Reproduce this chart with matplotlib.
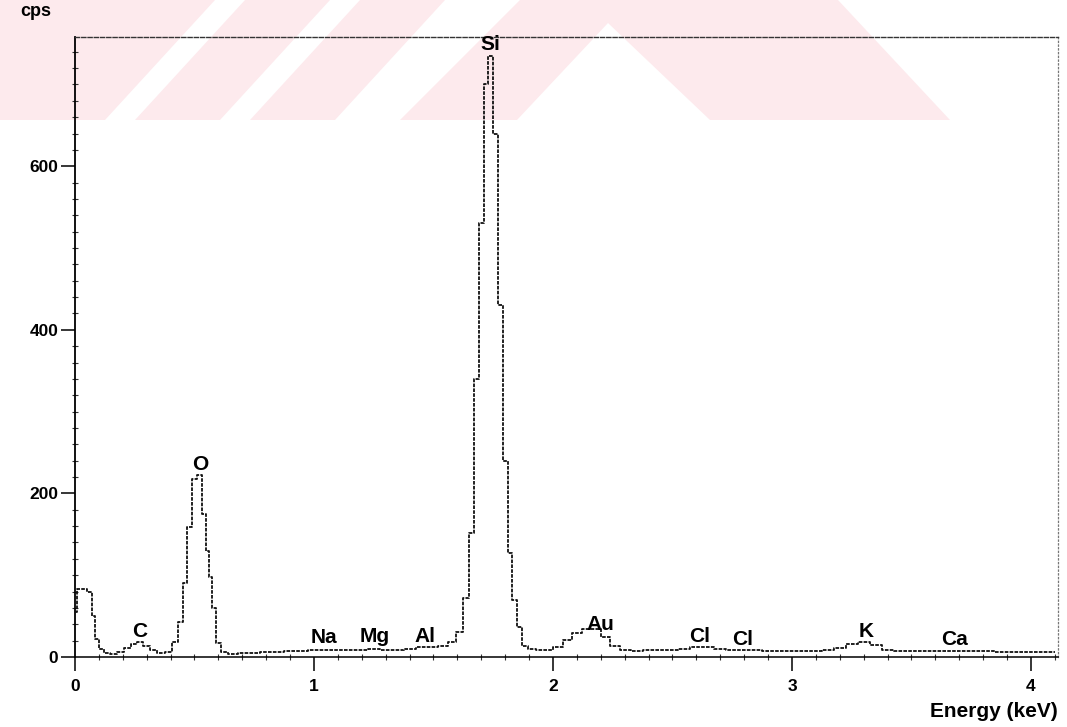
import matplotlib
matplotlib.use('Agg')
import matplotlib.pyplot as plt
from matplotlib.patches import Polygon
from matplotlib.ticker import MultipleLocator

# ---------------- data ----------------
energy = [0.00, 0.02, 0.04, 0.06, 0.08, 0.09, 0.11, 0.13, 0.16, 0.19, 0.22, 0.25, 0.27,
          0.30, 0.33, 0.36, 0.39, 0.42, 0.44, 0.46, 0.48, 0.50, 0.52, 0.54, 0.555, 0.57,
          0.58, 0.60, 0.62, 0.66, 0.70, 0.75, 0.80, 0.85, 0.90, 0.95, 1.00, 1.05, 1.10,
          1.15, 1.20, 1.25, 1.30, 1.35, 1.40, 1.45, 1.50, 1.54, 1.58, 1.61, 1.64, 1.66,
          1.68, 1.70, 1.72, 1.74, 1.76, 1.78, 1.80, 1.82, 1.84, 1.86, 1.88, 1.91, 1.95,
          1.98, 2.02, 2.06, 2.10, 2.14, 2.18, 2.22, 2.26, 2.30, 2.35, 2.40, 2.45, 2.50,
          2.55, 2.60, 2.65, 2.70, 2.75, 2.80, 2.85, 2.90, 2.95, 3.00, 3.05, 3.10, 3.15,
          3.20, 3.25, 3.30, 3.35, 3.40, 3.45, 3.50, 3.60, 3.70, 3.80, 3.90, 4.00, 4.10]
counts = [55, 83, 83, 80, 50, 22, 10, 5, 4, 6, 11, 16, 18,
          13, 8, 5, 6, 18, 43, 90, 159, 218, 222, 175, 130, 98,
          60, 17, 6, 4, 5, 5, 6, 6, 7, 7, 8, 9, 8,
          9, 9, 10, 9, 9, 10, 12, 12, 14, 18, 30, 72, 152,
          340, 530, 700, 735, 640, 430, 240, 127, 70, 37, 14, 10, 8,
          8, 12, 21, 29, 34, 34, 24, 14, 8, 7, 8, 8, 9,
          10, 12, 12, 10, 9, 8, 8, 7, 7, 7, 7, 7, 8,
          11, 16, 18, 15, 9, 7, 7, 7, 7, 7, 6, 6, 6]

peak_labels = ['Si', 'O', 'C', 'Na', 'Mg', 'Al', 'Au', 'Cl', 'Cl', 'K', 'Ca']
label_x = [1.736, 0.523, 0.272, 1.04, 1.255, 1.465, 2.197, 2.615, 2.795, 3.31, 3.68]
label_y = [749, 235, 31, 24, 25, 25, 40, 25, 22, 31, 21]

y_ticks = [0, 200, 400, 600]
x_ticks = [0, 1, 2, 3, 4]
x_max = 4.113
y_max = 758

W, H = 1067, 727
plt.rcParams['font.family'] = ['Liberation Sans', 'DejaVu Sans']
fig = plt.figure(figsize=(W / 100, H / 100), dpi=100)
fig.patch.set_facecolor('white')

# ---------------- watermark band (pink stripes at top) ----------------
pink = '#fdeaed'
def fp(pts):
    return [(x / W, 1 - y / H) for x, y in pts]
band_top, band_bot = 0, 120
stripes = [(-120, 110), (-10, 215), (135, 330), (250, 445)]
for x0, x1 in stripes:
    poly = [(x0 + 110, band_top), (x1, band_top), (x1 - 110, band_bot), (x0, band_bot)]
    fig.patches.append(Polygon(fp(poly), closed=True, transform=fig.transFigure,
                               facecolor=pink, edgecolor='none', zorder=-5))
chev = [(400, 120), (520, 0), (838, 0), (950, 120), (710, 120), (608, 23), (517, 120)]
fig.patches.append(Polygon(fp(chev), closed=True, transform=fig.transFigure,
                           facecolor=pink, edgecolor='none', zorder=-5))

# ---------------- axes ----------------
ax = fig.add_axes([75 / W, (H - 657) / H, (1058 - 75) / W, (657 - 37) / H])
ax.set_zorder(2)
ax.patch.set_alpha(0)
ax.set_xlim(0, x_max)
ax.set_ylim(0, y_max)

ax.step(energy, counts, where='mid', color='#111111', lw=1.3,
        linestyle=(0, (2.0, 0.7)), zorder=3)

ax.spines['left'].set_linewidth(1.3)
ax.spines['left'].set_color('black')
ax.spines['bottom'].set_linestyle((0, (2, 1)))
ax.spines['bottom'].set_linewidth(1.1)
ax.spines['top'].set_linestyle((0, (3, 1.5)))
ax.spines['top'].set_linewidth(1.0)
ax.spines['top'].set_color('#333333')
ax.spines['right'].set_linestyle((0, (1, 2)))
ax.spines['right'].set_linewidth(0.9)
ax.spines['right'].set_color('#777777')

ax.set_xticks(x_ticks)
ax.set_xticklabels([str(v) for v in x_ticks])
ax.set_yticks(y_ticks)
ax.set_yticklabels([str(v) for v in y_ticks])
ax.xaxis.set_minor_locator(MultipleLocator(0.1))
ax.yaxis.set_minor_locator(MultipleLocator(20))
ax.tick_params(axis='both', which='major', direction='out', length=10, width=1.1,
               labelsize=12.5, colors='black', pad=2)
ax.tick_params(axis='x', which='major', pad=6)
ax.tick_params(axis='both', which='minor', direction='inout', length=4, width=0.8,
               colors='#333333')
ax.tick_params(top=False, right=False, which='both')
for t in ax.get_xticklabels() + ax.get_yticklabels():
    t.set_fontweight('bold')

for lab, lx, ly in zip(peak_labels, label_x, label_y):
    ax.text(lx, ly, lab, ha='center', va='center', fontsize=15, fontweight='bold',
            color='black', zorder=4)

ax.text(1.0, -0.088, 'Energy (keV)', transform=ax.transAxes, ha='right', va='center',
        fontsize=15, fontweight='bold', color='black')
fig.text(36 / W, 1 - 11 / H, 'cps', ha='center', va='center', fontsize=13,
         fontweight='bold', color='black')

fig.savefig('out.png', dpi=100)
